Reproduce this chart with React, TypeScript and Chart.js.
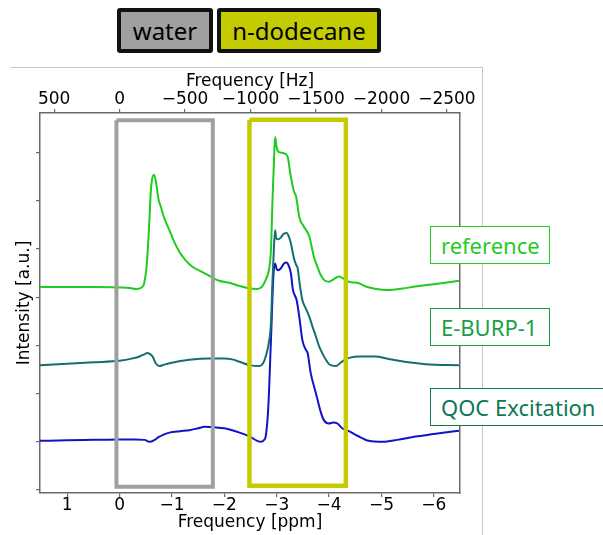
import React, { useEffect, useRef } from "react";
import { Chart, registerables } from "chart.js";
Chart.register(...registerables);

// Spectra: chemical shift [ppm] and intensity [a.u.]
const refPpm = [1.52, 1.0, 0.5, 0.0, -0.2, -0.32, -0.42, -0.47, -0.52, -0.56, -0.6, -0.66, -0.7, -0.74, -0.78, -0.85, -0.95, -1.05, -1.14, -1.25, -1.39, -1.58, -1.75, -1.9, -2.1, -2.29, -2.48, -2.63, -2.72, -2.79, -2.86, -2.89, -2.92, -2.95, -2.97, -3.0, -3.03, -3.08, -3.12, -3.17, -3.21, -3.27, -3.33, -3.37, -3.43, -3.52, -3.62, -3.71, -3.78, -3.84, -3.92, -4.0, -4.1, -4.19, -4.28, -4.38, -4.57, -4.7, -4.9, -5.11, -5.4, -5.65, -6.0, -6.48];
const refInt = [4.21, 4.21, 4.21, 4.2, 4.19, 4.17, 4.2, 4.29, 4.7, 5.4, 6.25, 6.54, 6.35, 6.05, 5.9, 5.65, 5.39, 5.13, 4.94, 4.78, 4.63, 4.52, 4.42, 4.34, 4.3, 4.23, 4.18, 4.17, 4.22, 4.36, 4.62, 4.98, 6.02, 6.9, 7.32, 7.1, 7.02, 7.0, 6.99, 6.97, 6.91, 6.5, 6.19, 6.09, 5.67, 5.46, 5.27, 4.84, 4.62, 4.46, 4.34, 4.32, 4.38, 4.43, 4.38, 4.32, 4.29, 4.22, 4.17, 4.15, 4.18, 4.22, 4.27, 4.34];

const eburpPpm = [1.52, 1.0, 0.5, 0.0, -0.25, -0.38, -0.48, -0.53, -0.58, -0.63, -0.69, -0.76, -0.85, -0.95, -1.33, -1.71, -2.0, -2.15, -2.29, -2.48, -2.67, -2.74, -2.79, -2.84, -2.89, -2.92, -2.95, -2.97, -2.99, -3.03, -3.08, -3.14, -3.19, -3.23, -3.27, -3.33, -3.37, -3.4, -3.43, -3.49, -3.55, -3.62, -3.68, -3.75, -3.81, -3.87, -3.94, -4.0, -4.13, -4.22, -4.3, -4.38, -4.6, -4.89, -5.1, -5.33, -5.84, -6.48];
const eburpInt = [2.59, 2.62, 2.65, 2.68, 2.73, 2.77, 2.82, 2.84, 2.82, 2.77, 2.63, 2.57, 2.6, 2.63, 2.7, 2.73, 2.73, 2.71, 2.66, 2.59, 2.57, 2.63, 2.77, 3.0, 3.46, 4.36, 5.1, 5.39, 5.22, 5.2, 5.24, 5.32, 5.33, 5.26, 5.12, 4.8, 4.67, 4.6, 4.35, 3.94, 3.78, 3.6, 3.4, 3.18, 2.98, 2.84, 2.7, 2.61, 2.57, 2.64, 2.7, 2.74, 2.77, 2.77, 2.73, 2.68, 2.61, 2.59];

const qocPpm = [1.52, 1.0, 0.5, 0.0, -0.3, -0.48, -0.57, -0.67, -0.75, -0.82, -0.95, -1.15, -1.33, -1.5, -1.62, -1.81, -2.0, -2.15, -2.29, -2.48, -2.63, -2.7, -2.76, -2.79, -2.84, -2.89, -2.94, -2.97, -3.0, -3.03, -3.08, -3.14, -3.19, -3.23, -3.27, -3.31, -3.38, -3.43, -3.49, -3.55, -3.59, -3.65, -3.72, -3.78, -3.84, -3.9, -4.0, -4.08, -4.16, -4.25, -4.38, -4.55, -4.76, -5.02, -5.3, -5.65, -6.0, -6.48];
const qocInt = [1.02, 1.03, 1.04, 1.05, 1.05, 1.04, 1.0, 1.04, 1.1, 1.14, 1.19, 1.22, 1.24, 1.28, 1.31, 1.3, 1.28, 1.24, 1.19, 1.11, 1.02, 1.0, 1.04, 1.11, 1.73, 3.11, 4.5, 4.7, 4.58, 4.56, 4.6, 4.7, 4.72, 4.65, 4.5, 4.15, 3.94, 3.6, 3.11, 2.92, 2.84, 2.42, 2.12, 1.87, 1.62, 1.45, 1.38, 1.4, 1.38, 1.28, 1.22, 1.12, 1.02, 1.0, 1.04, 1.11, 1.16, 1.23];

// Region boxes: [ppm left, ppm right, intensity bottom, intensity top]
const waterBox = [0.06, -1.78, 0.07, 7.67];
const dodecaneBox = [-2.48, -4.32, 0.09, 7.68];

const ppmRange = [-6.5, 1.52];
const intensityRange = [-0.062, 7.82];
const spectrometerMHz = 400;
const ppmTicks = [1, 0, -1, -2, -3, -4, -5, -6];
const hzTicks = [500, 0, -500, -1000, -1500, -2000, -2500];
const intensityTicks = [0, 1, 2, 3, 4, 5, 6, 7];

const seriesLabels = ["reference", "E-BURP-1", "QOC Excitation"];
const regionLabels = ["water", "n-dodecane"];

const pts = (xs: number[], ys: number[]) => xs.map((x, i) => ({ x, y: ys[i] }));
const boxPts = (b: number[]) => [
  { x: b[0], y: b[3] },
  { x: b[1], y: b[3] },
  { x: b[1], y: b[2] },
  { x: b[0], y: b[2] },
  { x: b[0], y: b[3] },
];
const minus = (v: number) => (v < 0 ? "\u2212" + Math.abs(v) : String(v));

const tickFont = { family: "DejaVu Sans", size: 17, lineHeight: 1 };
const titleFont = { family: "DejaVu Sans", size: 17 };
const spine = "#6a6a6a";

export default function App() {
  const ref = useRef<HTMLCanvasElement>(null);
  useEffect(() => {
    if (!ref.current) return;
    const chart = new Chart(ref.current, {
      type: "line",
      data: {
        datasets: [
          {
            data: boxPts(waterBox),
            borderColor: "#a0a0a0",
            borderWidth: 4,
            pointRadius: 0,
            borderJoinStyle: "miter",
            tension: 0,
          },
          {
            data: boxPts(dodecaneBox),
            borderColor: "#c4cc00",
            borderWidth: 4.5,
            pointRadius: 0,
            borderJoinStyle: "miter",
            tension: 0,
          },
          {
            label: seriesLabels[0],
            data: pts(refPpm, refInt),
            borderColor: "#1ecc1e",
            borderWidth: 2,
            pointRadius: 0,
            cubicInterpolationMode: "monotone",
          },
          {
            label: seriesLabels[1],
            data: pts(eburpPpm, eburpInt),
            borderColor: "#156f6e",
            borderWidth: 2,
            pointRadius: 0,
            cubicInterpolationMode: "monotone",
          },
          {
            label: seriesLabels[2],
            data: pts(qocPpm, qocInt),
            borderColor: "#1212c8",
            borderWidth: 2,
            pointRadius: 0,
            cubicInterpolationMode: "monotone",
          },
        ] as any,
      },
      options: {
        animation: false,
        responsive: false,
        devicePixelRatio: 1,
        layout: { padding: 0 },
        plugins: { legend: { display: false }, tooltip: { enabled: false } },
        scales: {
          x: {
            type: "linear",
            position: "bottom",
            reverse: true,
            min: ppmRange[0],
            max: ppmRange[1],
            afterFit: (s: any) => { s.height = 42; },
            afterBuildTicks: (s: any) => { s.ticks = ppmTicks.map((v) => ({ value: v })); },
            ticks: { autoSkip: false, font: tickFont, color: "#000", padding: 0, maxRotation: 0, callback: (v: any) => minus(Number(v)) },
            grid: { display: true, drawOnChartArea: false, drawTicks: true, tickLength: 4, color: spine, lineWidth: 1.2 },
            border: { display: true, color: spine, width: 1.5 },
            title: { display: true, text: "Frequency [ppm]", font: titleFont, color: "#000", padding: { top: 0, bottom: 2 } },
          },
          x2: {
            type: "linear",
            position: "top",
            reverse: true,
            min: ppmRange[0] * spectrometerMHz,
            max: ppmRange[1] * spectrometerMHz,
            afterFit: (s: any) => { s.height = 113; },
            afterBuildTicks: (s: any) => { s.ticks = hzTicks.map((v) => ({ value: v })); },
            ticks: { autoSkip: false, font: tickFont, color: "#000", padding: 1, maxRotation: 0, callback: (v: any) => minus(Number(v)) },
            grid: { display: true, drawOnChartArea: false, drawTicks: true, tickLength: 4, color: spine, lineWidth: 1.2 },
            border: { display: true, color: spine, width: 1.5 },
            title: { display: true, text: "Frequency [Hz]", font: titleFont, color: "#000", padding: { top: 71, bottom: 0 } },
          },
          y: {
            type: "linear",
            position: "left",
            min: intensityRange[0],
            max: intensityRange[1],
            afterFit: (s: any) => { s.width = 40; },
            afterBuildTicks: (s: any) => { s.ticks = intensityTicks.map((v) => ({ value: v })); },
            ticks: { display: false },
            grid: { display: true, drawOnChartArea: false, drawTicks: true, tickLength: 4, color: spine, lineWidth: 1.2 },
            border: { display: true, color: spine, width: 1.5 },
            title: { display: true, text: "Intensity [a.u.]", font: titleFont, color: "#000", padding: { top: 14, bottom: 0 } },
          },
          y2: {
            type: "linear",
            position: "right",
            min: 0,
            max: 1,
            afterFit: (s: any) => { s.width = 143; },
            ticks: { display: false },
            grid: { display: false },
            border: { display: true, color: spine, width: 1.5 },
          },
        },
      } as any,
    });
    return () => chart.destroy();
  }, []);

  const legendBox = (top: number, color: string, text: string, width: number) => (
    <div
      style={{
        position: "absolute",
        left: 430,
        top,
        width,
        height: 38,
        boxSizing: "border-box",
        border: `1.5px solid ${color}`,
        background: "#fff",
        color,
        fontFamily: "Noto Sans",
        fontSize: 22,
        display: "flex",
        alignItems: "center",
        paddingLeft: 10,
        whiteSpace: "nowrap",
      }}
    >
      {text}
    </div>
  );

  const regionBox = (left: number, width: number, bg: string, text: string) => (
    <div
      style={{
        position: "absolute",
        left,
        top: 8,
        width,
        height: 45,
        boxSizing: "border-box",
        border: "4px solid #111",
        borderRadius: 3,
        background: bg,
        color: "#000",
        fontFamily: "Noto Sans",
        fontSize: 24,
        display: "flex",
        alignItems: "center",
        justifyContent: "center",
        whiteSpace: "nowrap",
      }}
    >
      {text}
    </div>
  );

  return (
    <div style={{ position: "absolute", left: 0, top: 0, width: 603, height: 535, overflow: "hidden", background: "#fff" }}>
      <div style={{ position: "absolute", left: 10, top: 67, width: 472, height: 500, borderTop: "1px solid #c8c8c8", borderRight: "1px solid #c8c8c8" }} />
      <canvas ref={ref} width={603} height={535} style={{ position: "absolute", left: 0, top: 0 }} />
      {regionBox(117, 96, "#a0a0a0", regionLabels[0])}
      {regionBox(217, 164, "#c4cc00", regionLabels[1])}
      {legendBox(226, "#22cc22", seriesLabels[0], 120)}
      {legendBox(308, "#1a9e46", seriesLabels[1], 120)}
      {legendBox(388, "#0e7a52", seriesLabels[2], 200)}
    </div>
  );
}
